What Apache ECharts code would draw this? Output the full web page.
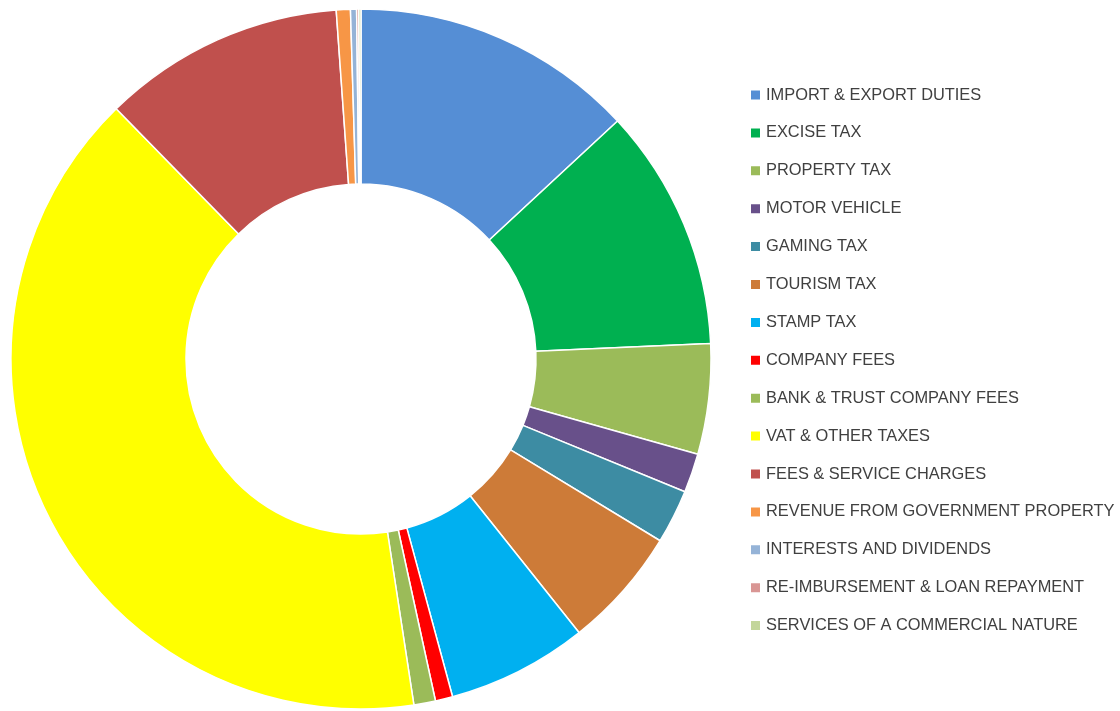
<!DOCTYPE html>
<html>
<head>
<meta charset="utf-8">
<script src="https://cdn.jsdelivr.net/npm/echarts@6/dist/echarts.min.js"></script>
<style>html,body{margin:0;padding:0;background:#fff;}#c{width:1120px;height:711px;}</style>
</head>
<body>
<div id="c"></div>
<script>
const categories = [
  "IMPORT & EXPORT DUTIES","EXCISE TAX","PROPERTY TAX","MOTOR VEHICLE","GAMING TAX",
  "TOURISM TAX","STAMP TAX","COMPANY FEES","BANK & TRUST COMPANY FEES","VAT & OTHER TAXES",
  "FEES & SERVICE CHARGES","REVENUE FROM GOVERNMENT PROPERTY","INTERESTS AND DIVIDENDS",
  "RE-IMBURSEMENT & LOAN REPAYMENT","SERVICES OF A COMMERCIAL NATURE"
];
const shares = [13.1, 11.2, 5.1, 1.8, 2.5, 5.6, 6.5, 0.8, 1.0, 40.1, 11.2, 0.65, 0.28, 0.1, 0.1];
const colors = ["#558ED5","#00B050","#9BBB59","#68508A","#3D8CA3","#CD7B38","#00B0F0","#FF0000",
  "#9BBB59","#FFFF00","#C0504D","#F79646","#95B3D7","#D99694","#C3D69B"];

const chart = echarts.init(document.getElementById('c'));
chart.setOption({
  animation: false,
  color: colors,
  legend: {
    orient: 'vertical',
    left: 749,
    top: 87,
    padding: 0,
    itemWidth: 11,
    itemHeight: 11,
    itemGap: 21.9,
    icon: 'rect',
    textStyle: { fontFamily: 'Liberation Sans, Arial, sans-serif', fontSize: 16.4, color: '#404040', lineHeight: 16 },
    data: categories
  },
  series: [{
    type: 'pie',
    center: [361, 359],
    radius: [175, 350],
    startAngle: 90,
    clockwise: true,
    label: { show: false },
    labelLine: { show: false },
    itemStyle: { borderColor: '#fff', borderWidth: 1.5 },
    emphasis: { disabled: true },
    data: categories.map((n, i) => ({ name: n, value: shares[i] }))
  }]
});
</script>
</body>
</html>
